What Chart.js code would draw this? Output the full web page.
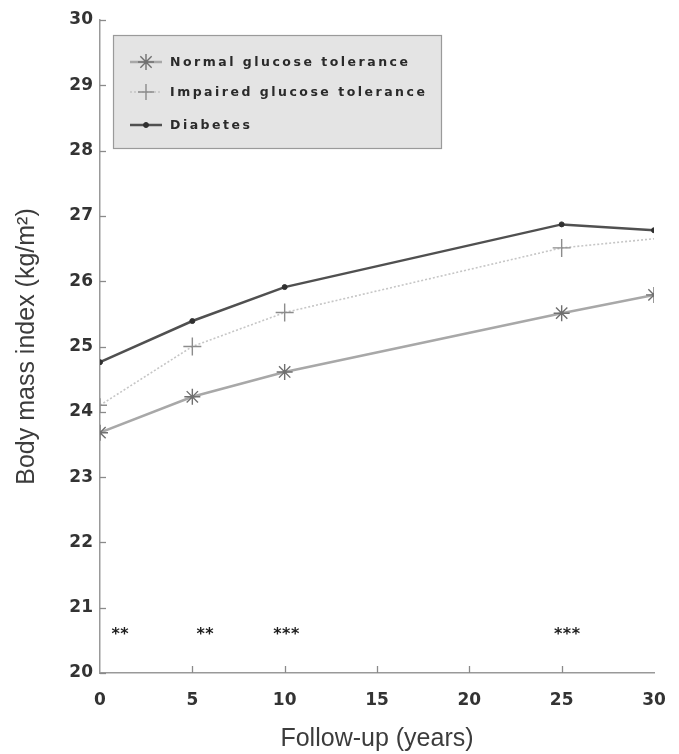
<!DOCTYPE html>
<html>
<head>
<meta charset="utf-8">
<script src="https://cdn.jsdelivr.net/npm/chart.js@4/dist/chart.umd.min.js"></script>
<style>
  html, body { margin: 0; padding: 0; background: #fff; }
  #wrap { width: 679px; height: 754px; position: relative; }
</style>
</head>
<body>
<div id="wrap"><canvas id="bmi"></canvas></div>
<script>
// follow-up years and mean BMI per group
const years = [0, 5, 10, 25, 30];
const normalGT = [23.68, 24.23, 24.61, 25.51, 25.79];
const impairedGT = [24.1, 25.0, 25.52, 26.51, 26.65];
const diabetes = [24.76, 25.39, 25.91, 26.87, 26.78];

// significance marks near the bottom of the plot
const sigYears = [1.1, 5.7, 10.1, 25.3];
const sigLabels = ['**', '**', '***', '***'];
const sigLevel = 20.68;

const yTicks = [20, 21, 22, 23, 24, 25, 26, 27, 28, 29, 30];
const xTicks = [5, 10, 15, 20, 25];

const legendItems = ['Normal glucose tolerance', 'Impaired glucose tolerance', 'Diabetes'];

function toPoints(vals) {
    return years.map((x, i) => ({ x: x, y: vals[i] }));
}

// small inward tick marks, significance stars and the boxed legend
const extras = {
    id: 'extras',
    afterDraw(chart) {
        const ctx = chart.ctx;
        const xs = chart.scales.x, ys = chart.scales.y;
        const left = chart.chartArea.left, bottom = chart.chartArea.bottom;
        ctx.save();
        ctx.strokeStyle = '#8a8a8a';
        ctx.lineWidth = 1.3;
        yTicks.forEach(v => {
            const py = Math.round(ys.getPixelForValue(v)) + 0.5;
            ctx.beginPath();
            ctx.moveTo(left, py);
            ctx.lineTo(left + 6, py);
            ctx.stroke();
        });
        xTicks.forEach(v => {
            const px = Math.round(xs.getPixelForValue(v)) + 0.5;
            ctx.beginPath();
            ctx.moveTo(px, bottom);
            ctx.lineTo(px, bottom - 7);
            ctx.stroke();
        });

        // stars
        ctx.fillStyle = '#1e1e1e';
        ctx.font = 'bold 16px "DejaVu Sans"';
        ctx.letterSpacing = '0.5px';
        ctx.textAlign = 'center';
        ctx.textBaseline = 'alphabetic';
        sigYears.forEach((v, i) => {
            ctx.fillText(sigLabels[i], xs.getPixelForValue(v), ys.getPixelForValue(sigLevel) + 10);
        });

        // legend box
        const bx = 113.5, by = 35.5, bw = 328, bh = 113;
        ctx.fillStyle = '#e4e4e4';
        ctx.fillRect(bx, by, bw, bh);
        ctx.strokeStyle = '#9a9a9a';
        ctx.lineWidth = 1.2;
        ctx.strokeRect(bx, by, bw, bh);

        const rowY = [62, 92, 125];
        const ds = chart.data.datasets;
        rowY.forEach((ry, i) => {
            const d = ds[i];
            ctx.save();
            ctx.strokeStyle = d.borderColor;
            ctx.lineWidth = d.borderWidth;
            ctx.setLineDash(d.borderDash || []);
            ctx.beginPath();
            ctx.moveTo(130, ry);
            ctx.lineTo(162, ry);
            ctx.stroke();
            ctx.strokeStyle = d.pointBorderColor;
            ctx.fillStyle = d.pointBackgroundColor;
            ctx.lineWidth = d.pointBorderWidth;
            ctx.setLineDash([]);
            Chart.helpers.drawPoint(ctx, {
                pointStyle: d.pointStyle,
                radius: i === 2 ? 2.5 : 8,
                borderWidth: d.pointBorderWidth,
                rotation: 0
            }, 146, ry);
            ctx.restore();
        });

        ctx.fillStyle = '#2a2a2a';
        ctx.font = 'bold 12.5px "DejaVu Sans"';
        ctx.letterSpacing = '2.5px';
        ctx.textAlign = 'left';
        ctx.textBaseline = 'middle';
        legendItems.forEach((t, i) => {
            ctx.fillText(t, 170, rowY[i] + 1);
        });
        ctx.restore();
    }
};

new Chart(document.getElementById('bmi'), {
    type: 'line',
    data: {
        datasets: [
            {
                label: legendItems[0],
                data: toPoints(normalGT),
                borderColor: '#a8a8a8',
                borderWidth: 2.5,
                pointStyle: 'star',
                pointRadius: 8,
                pointBorderColor: '#707070',
                pointBackgroundColor: '#707070',
                pointBorderWidth: 1.4,
                order: 3
            },
            {
                label: legendItems[1],
                data: toPoints(impairedGT),
                borderColor: '#c6c6c6',
                borderWidth: 1.6,
                borderDash: [2, 2],
                pointStyle: 'cross',
                pointRadius: [7, 9, 9, 9, 0],
                pointBorderColor: '#8c8c8c',
                pointBackgroundColor: '#8c8c8c',
                pointBorderWidth: 1.4,
                order: 2
            },
            {
                label: legendItems[2],
                data: toPoints(diabetes),
                borderColor: '#505050',
                borderWidth: 2.5,
                pointStyle: 'circle',
                pointRadius: 2.5,
                pointBorderColor: '#303030',
                pointBackgroundColor: '#303030',
                pointBorderWidth: 1,
                order: 1
            }
        ]
    },
    options: {
        responsive: true,
        maintainAspectRatio: false,
        animation: false,
        layout: { padding: { left: 0, right: 25, top: 20, bottom: 0 } },
        plugins: {
            legend: { display: false },
            tooltip: { enabled: false }
        },
        scales: {
            x: {
                type: 'linear',
                min: 0,
                max: 30,
                grid: { display: false, drawTicks: false },
                border: { display: true, color: '#999', width: 1.5 },
                ticks: {
                    stepSize: 5,
                    color: '#333',
                    font: { family: '"DejaVu Sans"', size: 17, weight: 'bold' },
                    padding: 17
                },
                title: {
                    display: true,
                    text: 'Follow-up (years)',
                    color: '#3c3c3c',
                    font: { family: '"Liberation Sans", Arial', size: 25 },
                    padding: { top: 0, bottom: 0 }
                },
                afterFit(scale) {
                    scale.height = 81;
                    scale.paddingRight = 4;
                }
            },
            y: {
                min: 20,
                max: 30,
                grid: { display: false, drawTicks: false },
                border: { display: true, color: '#999', width: 1.5 },
                ticks: {
                    stepSize: 1,
                    color: '#333',
                    font: { family: '"DejaVu Sans"', size: 17, weight: 'bold' },
                    padding: 7
                },
                title: {
                    display: true,
                    text: 'Body mass index (kg/m²)',
                    color: '#3c3c3c',
                    font: { family: '"Liberation Sans", Arial', size: 25 },
                    padding: { top: 12, bottom: 0 }
                },
                afterFit(scale) { scale.width = 100; }
            }
        }
    },
    plugins: [extras]
});
</script>
</body>
</html>
